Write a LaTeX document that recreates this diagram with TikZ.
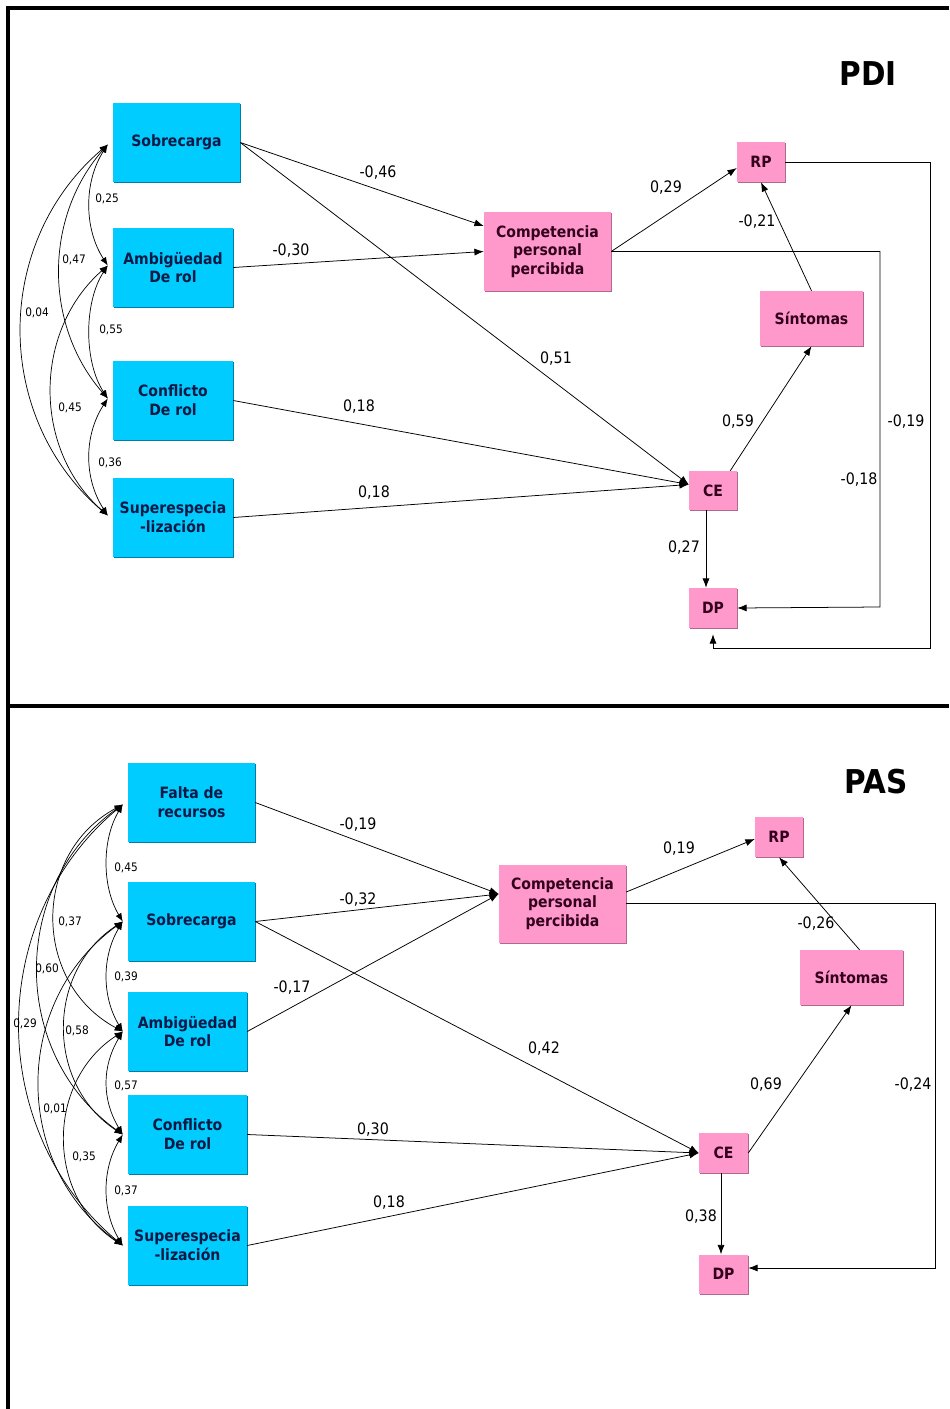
\documentclass[tikz,border=0pt]{standalone}
\usepackage{fontspec}
\usetikzlibrary{arrows.meta,calc,shadows}
\newfontfamily\diagfont{DejaVu Sans Condensed}
\definecolor{exoblue}{RGB}{0,204,255}
\definecolor{exobluedark}{RGB}{0,125,165}
\definecolor{endopink}{RGB}{255,153,204}
\definecolor{endopinkdark}{RGB}{175,105,140}
\definecolor{bluetext}{RGB}{10,25,70}
\definecolor{pinktext}{RGB}{50,0,28}
% curved two-headed covariance between two stacked variables
\newcommand\covpair[4]{\draw[cov] (#1) .. controls +(-#3,#4) and +(-#3,-#4) .. (#2);}
\begin{document}
\begin{tikzpicture}[x=0.03cm, y=-0.03cm,
  box/.style={inner sep=0pt, align=center,
    font=\diagfont\bfseries\fontsize{13.3}{16}\selectfont},
  exo/.style={box, fill=exoblue, text=bluetext, minimum height=2.37cm,
    drop shadow={shadow xshift=1pt, shadow yshift=-1pt, fill=exobluedark, opacity=1}},
  endo/.style={box, fill=endopink, text=pinktext,
    drop shadow={shadow xshift=1pt, shadow yshift=-1pt, fill=endopinkdark, opacity=1}},
  reg/.style={draw, line width=0.65pt, -{Latex[length=8pt,width=6pt]}},
  cov/.style={line width=0.6pt, {Latex[length=7pt,width=5.5pt]}-{Latex[length=7pt,width=5.5pt]}},
  lbl/.style={inner sep=0pt, font=\diagfont\fontsize{13.5}{16}\selectfont},
  clbl/.style={inner sep=0pt, font=\diagfont\fontsize{10}{12}\selectfont},
  title/.style={inner sep=0pt, font=\diagfont\bfseries\fontsize{28}{30}\selectfont}
]
\useasboundingbox (0,0) rectangle (949,1409);
\fill[white] (0,0) rectangle (949,1409);

% panel frame
\draw[line width=2.6pt] (949,8) -- (8,8) -- (8,1409);
\draw[line width=2.6pt] (8,706) -- (949,706);

% ================= PDI =================
\node[title] (t-title) at (868,74) {PDI};

\node[exo, minimum width=3.81cm] (t-sob) at (176.5,142.5) {Sobrecarga};
\node[exo, minimum width=3.6cm] (t-amb) at (173,267.5) {Ambigüedad\\De rol};
\node[exo, minimum width=3.6cm] (t-con) at (173,400.5) {Conflicto\\De rol};
\node[exo, minimum width=3.6cm] (t-sup) at (173,517.5) {Superespecia\\-lización};

\node[endo, minimum width=3.81cm, minimum height=2.37cm] (t-comp) at (547.5,251.5) {Competencia\\personal\\percibida};
\node[endo, minimum width=1.44cm, minimum height=1.2cm] (t-rp) at (761,162) {RP};
\node[endo, minimum width=3.09cm, minimum height=1.65cm] (t-sin) at (811.5,318.5) {Síntomas};
\node[endo, minimum width=1.44cm, minimum height=1.17cm] (t-ce) at (713,490.5) {CE};
\node[endo, minimum width=1.44cm, minimum height=1.2cm] (t-dp) at (713,608) {DP};

\coordinate (t-comp-in) at ($(t-comp.west)+(0,-25.5)$);
\coordinate (t-ce-in) at ($(t-ce.west)+(0,-6)$);
\coordinate (t-loop1) at (930,648);
\coordinate (t-loop2) at (880,607);

\draw[reg] (t-sob.east) -- (t-comp-in);
\draw[reg] (t-amb.east) -- (t-comp.west);
\draw[reg] (t-sob.east) -- (t-ce-in);
\draw[reg] (t-con.east) -- (t-ce-in);
\draw[reg] (t-sup.east) -- (t-ce-in);
\draw[reg] (t-comp.east) -- ($(t-rp.west)+(0,6)$);
\draw[reg] (t-sin.north) -- (t-rp.south);
\draw[reg] ($(t-ce.north east)+(-7,0)$) -- (t-sin.south);
\draw[reg] ($(t-ce.south)+(-7,0)$) -- ($(t-dp.north)+(-7,0)$);
\draw[reg] (t-rp.east) -| (t-loop1) -| ($(t-dp.south)+(0,6)$);
\draw[reg] (t-comp.east) -| (t-loop2) -- (t-dp.east);

\node[lbl] (t-l1) at (378,173) {-0,46};
\node[lbl] (t-l2) at (291,251) {-0,30};
\node[lbl] (t-l3) at (556,359) {0,51};
\node[lbl] (t-l4) at (359,407) {0,18};
\node[lbl] (t-l5) at (374,493) {0,18};
\node[lbl] (t-l6) at (666,188) {0,29};
\node[lbl] (t-l7) at (757,222) {-0,21};
\node[lbl] (t-l8) at (738,422) {0,59};
\node[lbl] (t-l9) at (684,548) {0,27};
\node[lbl] (t-l10) at (906,422) {-0,19};
\node[lbl] (t-l11) at (859,480) {-0,18};

% covariances among the stressors
\coordinate (t-c1) at ($(t-sob.west)+(-5,2)$);
\coordinate (t-c2) at ($(t-amb.west)+(-5,-2)$);
\coordinate (t-c3) at ($(t-con.west)+(-5,-2)$);
\coordinate (t-c4) at ($(t-sup.west)+(-5,-2)$);
\covpair{t-c1}{t-c2}{24}{37}
\covpair{t-c2}{t-c3}{24}{37}
\covpair{t-c3}{t-c4}{24}{37}
\covpair{t-c1}{t-c3}{64}{73}
\covpair{t-c2}{t-c4}{75}{66}
\covpair{t-c1}{t-c4}{115}{98}

\node[clbl] (t-k1) at (107,199) {0,25};
\node[clbl] (t-k2) at (74,260) {0,47};
\node[clbl] (t-k3) at (37,313) {0,04};
\node[clbl] (t-k4) at (111,330) {0,55};
\node[clbl] (t-k5) at (70,408) {0,45};
\node[clbl] (t-k6) at (110,463) {0,36};

% ================= PAS =================
\node[title] (b-title) at (876,782) {PAS};

\node[exo, minimum width=3.81cm] (b-fal) at (191.5,802.5) {Falta de\\recursos};
\node[exo, minimum width=3.81cm] (b-sob) at (191.5,921.5) {Sobrecarga};
\node[exo, minimum width=3.57cm] (b-amb) at (187.5,1031.5) {Ambigüedad\\De rol};
\node[exo, minimum width=3.57cm] (b-con) at (187.5,1134.5) {Conflicto\\De rol};
\node[exo, minimum width=3.57cm] (b-sup) at (187.5,1245.5) {Superespecia\\-lización};

\node[endo, minimum width=3.81cm, minimum height=2.34cm] (b-comp) at (562.5,903.5) {Competencia\\personal\\percibida};
\node[endo, minimum width=1.44cm, minimum height=1.2cm] (b-rp) at (779,837) {RP};
\node[endo, minimum width=3.09cm, minimum height=1.65cm] (b-sin) at (851.5,977.5) {Síntomas};
\node[endo, minimum width=1.47cm, minimum height=1.2cm] (b-ce) at (723.5,1153) {CE};
\node[endo, minimum width=1.47cm, minimum height=1.17cm] (b-dp) at (723.5,1274) {DP};

\coordinate (b-comp-in) at ($(b-comp.west)+(0,-9.5)$);
\coordinate (b-loop) at (935,1268);

\draw[reg] (b-fal.east) -- (b-comp-in);
\draw[reg] (b-sob.east) -- (b-comp-in);
\draw[reg] (b-amb.east) -- (b-comp-in);
\draw[reg] (b-sob.east) -- (b-ce.west);
\draw[reg] (b-con.east) -- (b-ce.west);
\draw[reg] (b-sup.east) -- (b-ce.west);
\draw[reg] ($(b-comp.east)+(0,-11.5)$) -- ($(b-rp.west)+(0,2)$);
\draw[reg] ($(b-sin.north)+(8,0)$) -- (b-rp.south);
\draw[reg] (b-ce.east) -- (b-sin.south);
\draw[reg] ($(b-ce.south)+(-2.5,0)$) -- ($(b-dp.north)+(-2.5,0)$);
\draw[reg] (b-comp.east) -| (b-loop) -- ($(b-dp.east)+(0,-6)$);

\node[lbl] (b-l1) at (358,825) {-0,19};
\node[lbl] (b-l2) at (358,900) {-0,32};
\node[lbl] (b-l3) at (292,988) {-0,17};
\node[lbl] (b-l4) at (544,1049) {0,42};
\node[lbl] (b-l5) at (373,1130) {0,30};
\node[lbl] (b-l6) at (389,1203) {0,18};
\node[lbl] (b-l7) at (679,849) {0,19};
\node[lbl] (b-l8) at (816,924) {-0,26};
\node[lbl] (b-l9) at (766,1085) {0,69};
\node[lbl] (b-l10) at (913,1085) {-0,24};
\node[lbl] (b-l11) at (701,1217) {0,38};

% covariances among the stressors
\coordinate (b-c1) at ($(b-fal.west)+(-5,2)$);
\coordinate (b-c2) at ($(b-sob.west)+(-5,0)$);
\coordinate (b-c3) at ($(b-amb.west)+(-5,0)$);
\coordinate (b-c4) at ($(b-con.west)+(-5,0)$);
\coordinate (b-c5) at ($(b-sup.west)+(-5,0)$);
\covpair{b-c1}{b-c2}{21}{35}
\covpair{b-c2}{b-c3}{21}{35}
\covpair{b-c3}{b-c4}{21}{35}
\covpair{b-c4}{b-c5}{21}{35}
\covpair{b-c1}{b-c3}{91}{49}
\covpair{b-c2}{b-c4}{77}{50}
\covpair{b-c3}{b-c5}{77}{50}
\covpair{b-c1}{b-c4}{113}{81}
\covpair{b-c2}{b-c5}{111}{80}
\covpair{b-c1}{b-c5}{137}{115}

\node[clbl] (b-k1) at (126,868) {0,45};
\node[clbl] (b-k2) at (70,922) {0,37};
\node[clbl] (b-k3) at (47,969) {0,60};
\node[clbl] (b-k4) at (25,1024) {0,29};
\node[clbl] (b-k5) at (126,977) {0,39};
\node[clbl] (b-k6) at (77,1031) {0,58};
\node[clbl] (b-k7) at (126,1086) {0,57};
\node[clbl] (b-k8) at (55,1109) {0,01};
\node[clbl] (b-k9) at (84,1157) {0,35};
\node[clbl] (b-k10) at (126,1191) {0,37};
\end{tikzpicture}
\end{document}
